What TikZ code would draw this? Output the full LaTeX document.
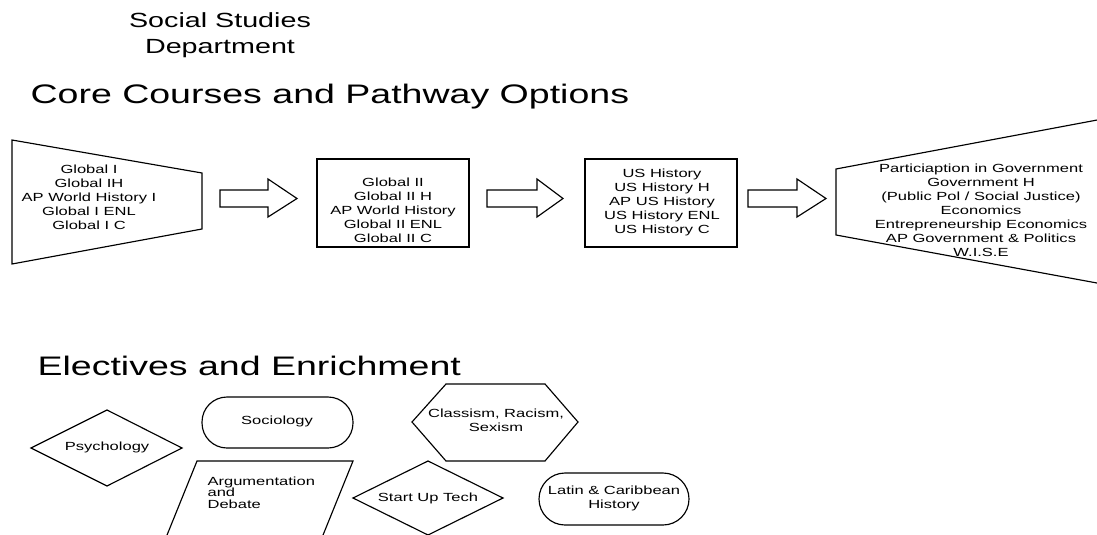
\documentclass[tikz,border=0pt]{standalone}
\usepackage{fontspec}
\setmainfont[FakeStretch=1.4]{Liberation Sans}
\begin{document}
\begin{tikzpicture}[x=1pt,y=-1pt,line width=1.15pt,line join=miter,
  txt/.style={align=center,inner sep=0pt,font=\fontsize{11.8}{14}\selectfont},
  big/.style={inner sep=0pt,font=\fontsize{26.8}{30}\selectfont,anchor=base west},
  shp/.style={draw=black}]
\useasboundingbox (0,0) rectangle (1097,535);
\clip (0,0) rectangle (1097,535);
% titles
\node[align=center,inner sep=0pt,font=\fontsize{20.5}{26}\selectfont] (dept) at (220,35) {Social Studies\\Department};
\node[big] (core) at (30,103) {Core Courses and Pathway Options};
\node[big] (elec) at (37,375) {Electives and Enrichment};
% core shapes
\draw[shp] (12,140) -- (202,173) -- (202,229) -- (12,264) -- cycle;
\node[txt] (g1) at (89,197) {Global I\\Global IH\\AP World History I\\Global I ENL\\Global I C};
\draw[shp] (220,190) -- (268,190) -- (268,179) -- (297,198.5) -- (268,217) -- (268,207) -- (220,207) -- cycle;
\draw[shp] (317,159) rectangle (469,247);
\node[txt] (g2) at (393,210) {Global II\\Global II H\\AP World History\\Global II ENL\\Global II C};
\draw[shp] (487,190) -- (537,190) -- (537,179) -- (563,198.5) -- (537,217) -- (537,207) -- (487,207) -- cycle;
\draw[shp] (585,159) rectangle (737,247);
\node[txt] (us) at (662,202) {US History\\US History H\\AP US History\\US History ENL\\US History C};
\draw[shp] (748,190) -- (797,190) -- (797,179) -- (826,198.5) -- (797,217) -- (797,207) -- (748,207) -- cycle;
\draw[shp] (1110,117.6) -- (836,169) -- (836,235) -- (1110,285.4);
\node[txt] (gov) at (981,210) {Particiaption in Government\\Government H\\(Public Pol / Social Justice)\\Economics\\Entrepreneurship Economics\\AP Government \& Politics\\W.I.S.E};
% electives
\draw[shp] (31,448) -- (107,410) -- (182,448) -- (107,486) -- cycle;
\node[txt] (psy) at (107,447) {Psychology};
\draw[shp,rounded corners=25pt] (202,397) rectangle (353,448);
\node[txt] (soc) at (277,421) {Sociology};
\draw[shp] (197,461) -- (353,461) -- (319,545) -- (163,545) -- cycle;
\node[txt,align=left,anchor=north west,font=\fontsize{11.8}{11.5}\selectfont] (arg) at (207,476) {Argumentation\\and\\Debate};
\draw[shp] (412,422) -- (446,384) -- (545,384) -- (578,422) -- (545,461) -- (446,461) -- cycle;
\node[txt] (crs) at (496,420) {Classism, Racism,\\Sexism};
\draw[shp] (353,498) -- (428,461) -- (503,498) -- (428,535) -- cycle;
\node[txt] (sut) at (428,498) {Start Up Tech};
\draw[shp,rounded corners=26pt] (539,473) rectangle (689,525);
\node[txt] (lat) at (614,498) {Latin \& Caribbean\\History};
\end{tikzpicture}
\end{document}
